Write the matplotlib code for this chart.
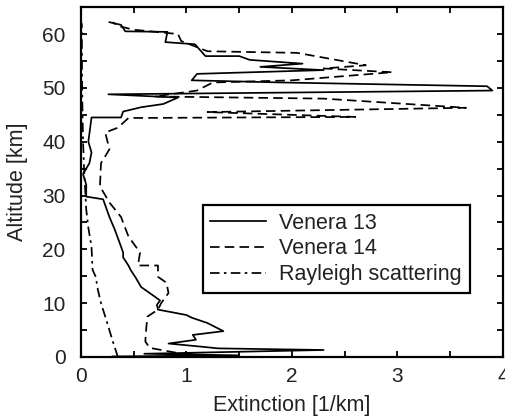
import matplotlib
matplotlib.use('Agg')
import matplotlib.pyplot as plt
from matplotlib.ticker import MultipleLocator

plt.rcParams['font.family'] = ['Liberation Sans', 'DejaVu Sans']

# Venera 13 profile (extinction [1/km], altitude [km])
v13_ext = [0.30, 1.50, 0.60, 2.30, 1.30, 1.15, 0.83, 1.09, 1.06, 1.35, 1.20, 1.05, 1.00,
           0.73, 0.72, 0.75, 0.65, 0.57, 0.52, 0.47, 0.45, 0.40, 0.40, 0.38, 0.32, 0.27,
           0.21, 0.05, 0.05, 0.02, 0.08, 0.10, 0.07, 0.10, 0.38, 0.40, 0.57, 0.78, 0.92,
           0.26, 3.90, 3.85, 1.90, 1.05, 1.10, 2.30, 1.70, 2.10, 1.60, 1.50, 1.18, 1.08,
           0.80, 0.82, 0.42, 0.38, 0.27]
v13_alt = [0.1, 0.3, 0.6, 1.3, 1.6, 1.9, 2.5, 3.2, 4.1, 4.8, 6.3, 7.3, 7.8,
           8.8, 9.7, 10.5, 11.9, 13.0, 14.7, 16.2, 17.0, 18.5, 19.4, 20.5, 23.7, 26.0,
           29.3, 29.8, 32.0, 34.0, 36.0, 38.0, 40.0, 44.5, 44.5, 45.6, 46.4, 47.0, 48.2,
           48.8, 49.5, 50.3, 51.0, 51.4, 52.6, 53.3, 53.9, 54.5, 55.2, 55.9, 55.9, 58.1,
           58.5, 60.4, 60.5, 61.7, 62.2]

# Venera 14 profile
v14_ext = [0.90, 0.65, 0.61, 0.62, 0.63, 0.73, 0.76, 0.83, 0.81, 0.73, 0.73, 0.54,
           0.56, 0.45, 0.38, 0.27, 0.18, 0.19, 0.27, 0.23, 0.35, 0.45, 2.60, 1.20,
           3.65, 2.30, 0.70, 1.10, 1.25, 2.00, 2.95, 2.30, 2.70, 2.05, 1.20, 0.95,
           0.92, 0.50, 0.35, 0.30]
v14_alt = [0.8, 1.7, 2.9, 5.6, 7.5, 8.8, 10.0, 11.9, 13.8, 14.9, 17.0, 17.0,
           19.4, 22.4, 26.0, 28.7, 31.7, 36.0, 38.6, 41.7, 42.6, 44.4, 44.6, 45.5,
           46.3, 48.0, 48.4, 49.5, 51.0, 51.4, 52.9, 53.6, 54.2, 56.5, 56.8, 58.7,
           60.0, 60.8, 61.5, 62.2]

# Rayleigh scattering
ray_ext = [0.35, 0.30, 0.24, 0.19, 0.16, 0.14, 0.11, 0.10, 0.07, 0.05, 0.04, 0.03,
           0.02, 0.015, 0.01, 0.008]
ray_alt = [0.0, 3.0, 6.9, 10.0, 12.5, 14.9, 16.2, 20.5, 24.0, 27.4, 31.0, 34.8,
           40.0, 45.0, 52.0, 62.0]

fig = plt.figure(figsize=(5.06, 4.19), dpi=100)
ax = fig.add_axes([0.160, 0.148, 0.834, 0.835])

lw = 1.25
ax.plot(v13_ext, v13_alt, color='black', lw=lw, ls='-', label='Venera 13')
ax.plot(v14_ext, v14_alt, color='black', lw=lw, ls=(0, (5.5, 3)), label='Venera 14')
ax.plot(ray_ext, ray_alt, color='black', lw=lw, ls=(0, (5.5, 2.5, 1.5, 2.5)),
        label='Rayleigh scattering')

ax.set_xlim(0, 4)
ax.set_ylim(0, 65)
ax.xaxis.set_major_locator(MultipleLocator(1))
ax.xaxis.set_minor_locator(MultipleLocator(0.5))
ax.yaxis.set_major_locator(MultipleLocator(10))
ax.yaxis.set_minor_locator(MultipleLocator(5))
ax.tick_params(which='both', direction='in', top=True, right=True,
               length=4, width=1.3, labelsize=15, labelcolor='#222222')
ax.tick_params(axis='x', pad=7)
ax.tick_params(axis='y', pad=11)
for s in ax.spines.values():
    s.set_linewidth(1.6)

ax.set_xlabel('Extinction [1/km]', fontsize=15.5, color='#222222', labelpad=7)
ax.set_ylabel('Altitude [km]', fontsize=15.5, color='#222222', labelpad=10)

leg = ax.legend(loc='upper left', bbox_to_anchor=(0.289, 0.434), fontsize=15.5,
                frameon=True, fancybox=False, edgecolor='black', framealpha=1,
                handlelength=2.6, handletextpad=0.6, labelspacing=0.22,
                borderpad=0.35, borderaxespad=0)
leg.get_frame().set_linewidth(1.6)
for t in leg.get_texts():
    t.set_color('#222222')

fig.savefig('out.png', dpi=100)
